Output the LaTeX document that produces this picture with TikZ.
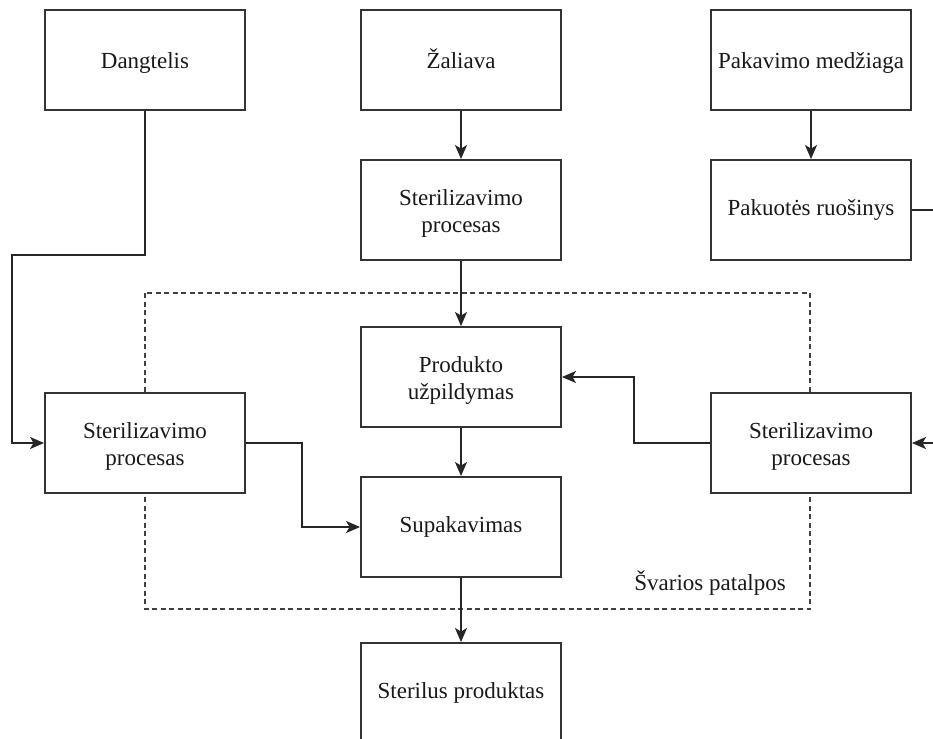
\documentclass[tikz,border=0pt]{standalone}
\usepackage{fontspec}
\setmainfont{Liberation Serif}
\usetikzlibrary{arrows.meta}
% extra head room on the first line of two-line labels
\newcommand{\firstline}{\rule{0pt}{22pt}}
\begin{document}
\begin{tikzpicture}[x=1pt,y=-1pt,
  box/.style={draw=black!80, line width=1.9pt, fill=white, minimum width=200pt,
    minimum height=100pt, align=center, inner sep=2pt, text=black!90,
    font=\fontsize{23}{27}\selectfont},
  oneline/.style={text height=15pt, text depth=5pt},
  toprow/.style={text height=22pt, text depth=5pt},
  flow/.style={draw=black!85, line width=1.9pt, -{Stealth[length=14pt,width=12pt,inset=3.5pt]}},
  zone/.style={draw=black!75, line width=1.8pt, dash pattern=on 5pt off 3.5pt},
  zonelabel/.style={font=\fontsize{23}{27}\selectfont, inner sep=0pt, text=black!90}]
\useasboundingbox (0,0) rectangle (933,738);
\begin{scope}
  \clip (0,0) rectangle (933,738);

  % clean room boundary
  \draw[zone] (145,293) rectangle (810,609);
  \node[zonelabel, anchor=base east] (zonelbl) at (786,590) {Švarios patalpos};

  % process boxes
  \node[box, toprow] (dang)   at (145,60)  {Dangtelis};
  \node[box, toprow] (zal)    at (461,60)  {Žaliava};
  \node[box, toprow] (pakm)   at (811,60)  {Pakavimo medžiaga};
  \node[box] (sterc)  at (461,210) {\firstline Sterilizavimo\\procesas};
  \node[box, oneline] (pakr)   at (811,210) {Pakuotės ruošinys};
  \node[box] (prod)   at (461,377) {\firstline Produkto\\užpildymas};
  \node[box] (sterl)  at (145,443) {\firstline Sterilizavimo\\procesas};
  \node[box] (sterr)  at (811,443) {\firstline Sterilizavimo\\procesas};
  \node[box, oneline] (supak)  at (461,527) {Supakavimas};
  \node[box, oneline] (steril) at (461,693) {Sterilus produktas};

  % routing points
  \coordinate (d1) at (12,255);
  \coordinate (r1) at (945,210);
  \coordinate (r2) at (945,443);

  % connectors
  \draw[flow] (zal.south) -- (sterc.north);
  \draw[flow] (sterc.south) -- (prod.north);
  \draw[flow] (prod.south) -- (supak.north);
  \draw[flow] (supak.south) -- (steril.north);
  \draw[flow] (pakm.south) -- (pakr.north);
  \draw[flow] (dang.south) |- (d1) |- (sterl.west);
  \draw[flow] (pakr.east) -- (r1) -- (r2) -- (sterr.east);
  \draw[flow] (sterl.east) -- ++(56,0) |- (supak.west);
  \draw[flow] (sterr.west) -- ++(-76,0) |- (prod.east);
\end{scope}
\end{tikzpicture}
\end{document}
